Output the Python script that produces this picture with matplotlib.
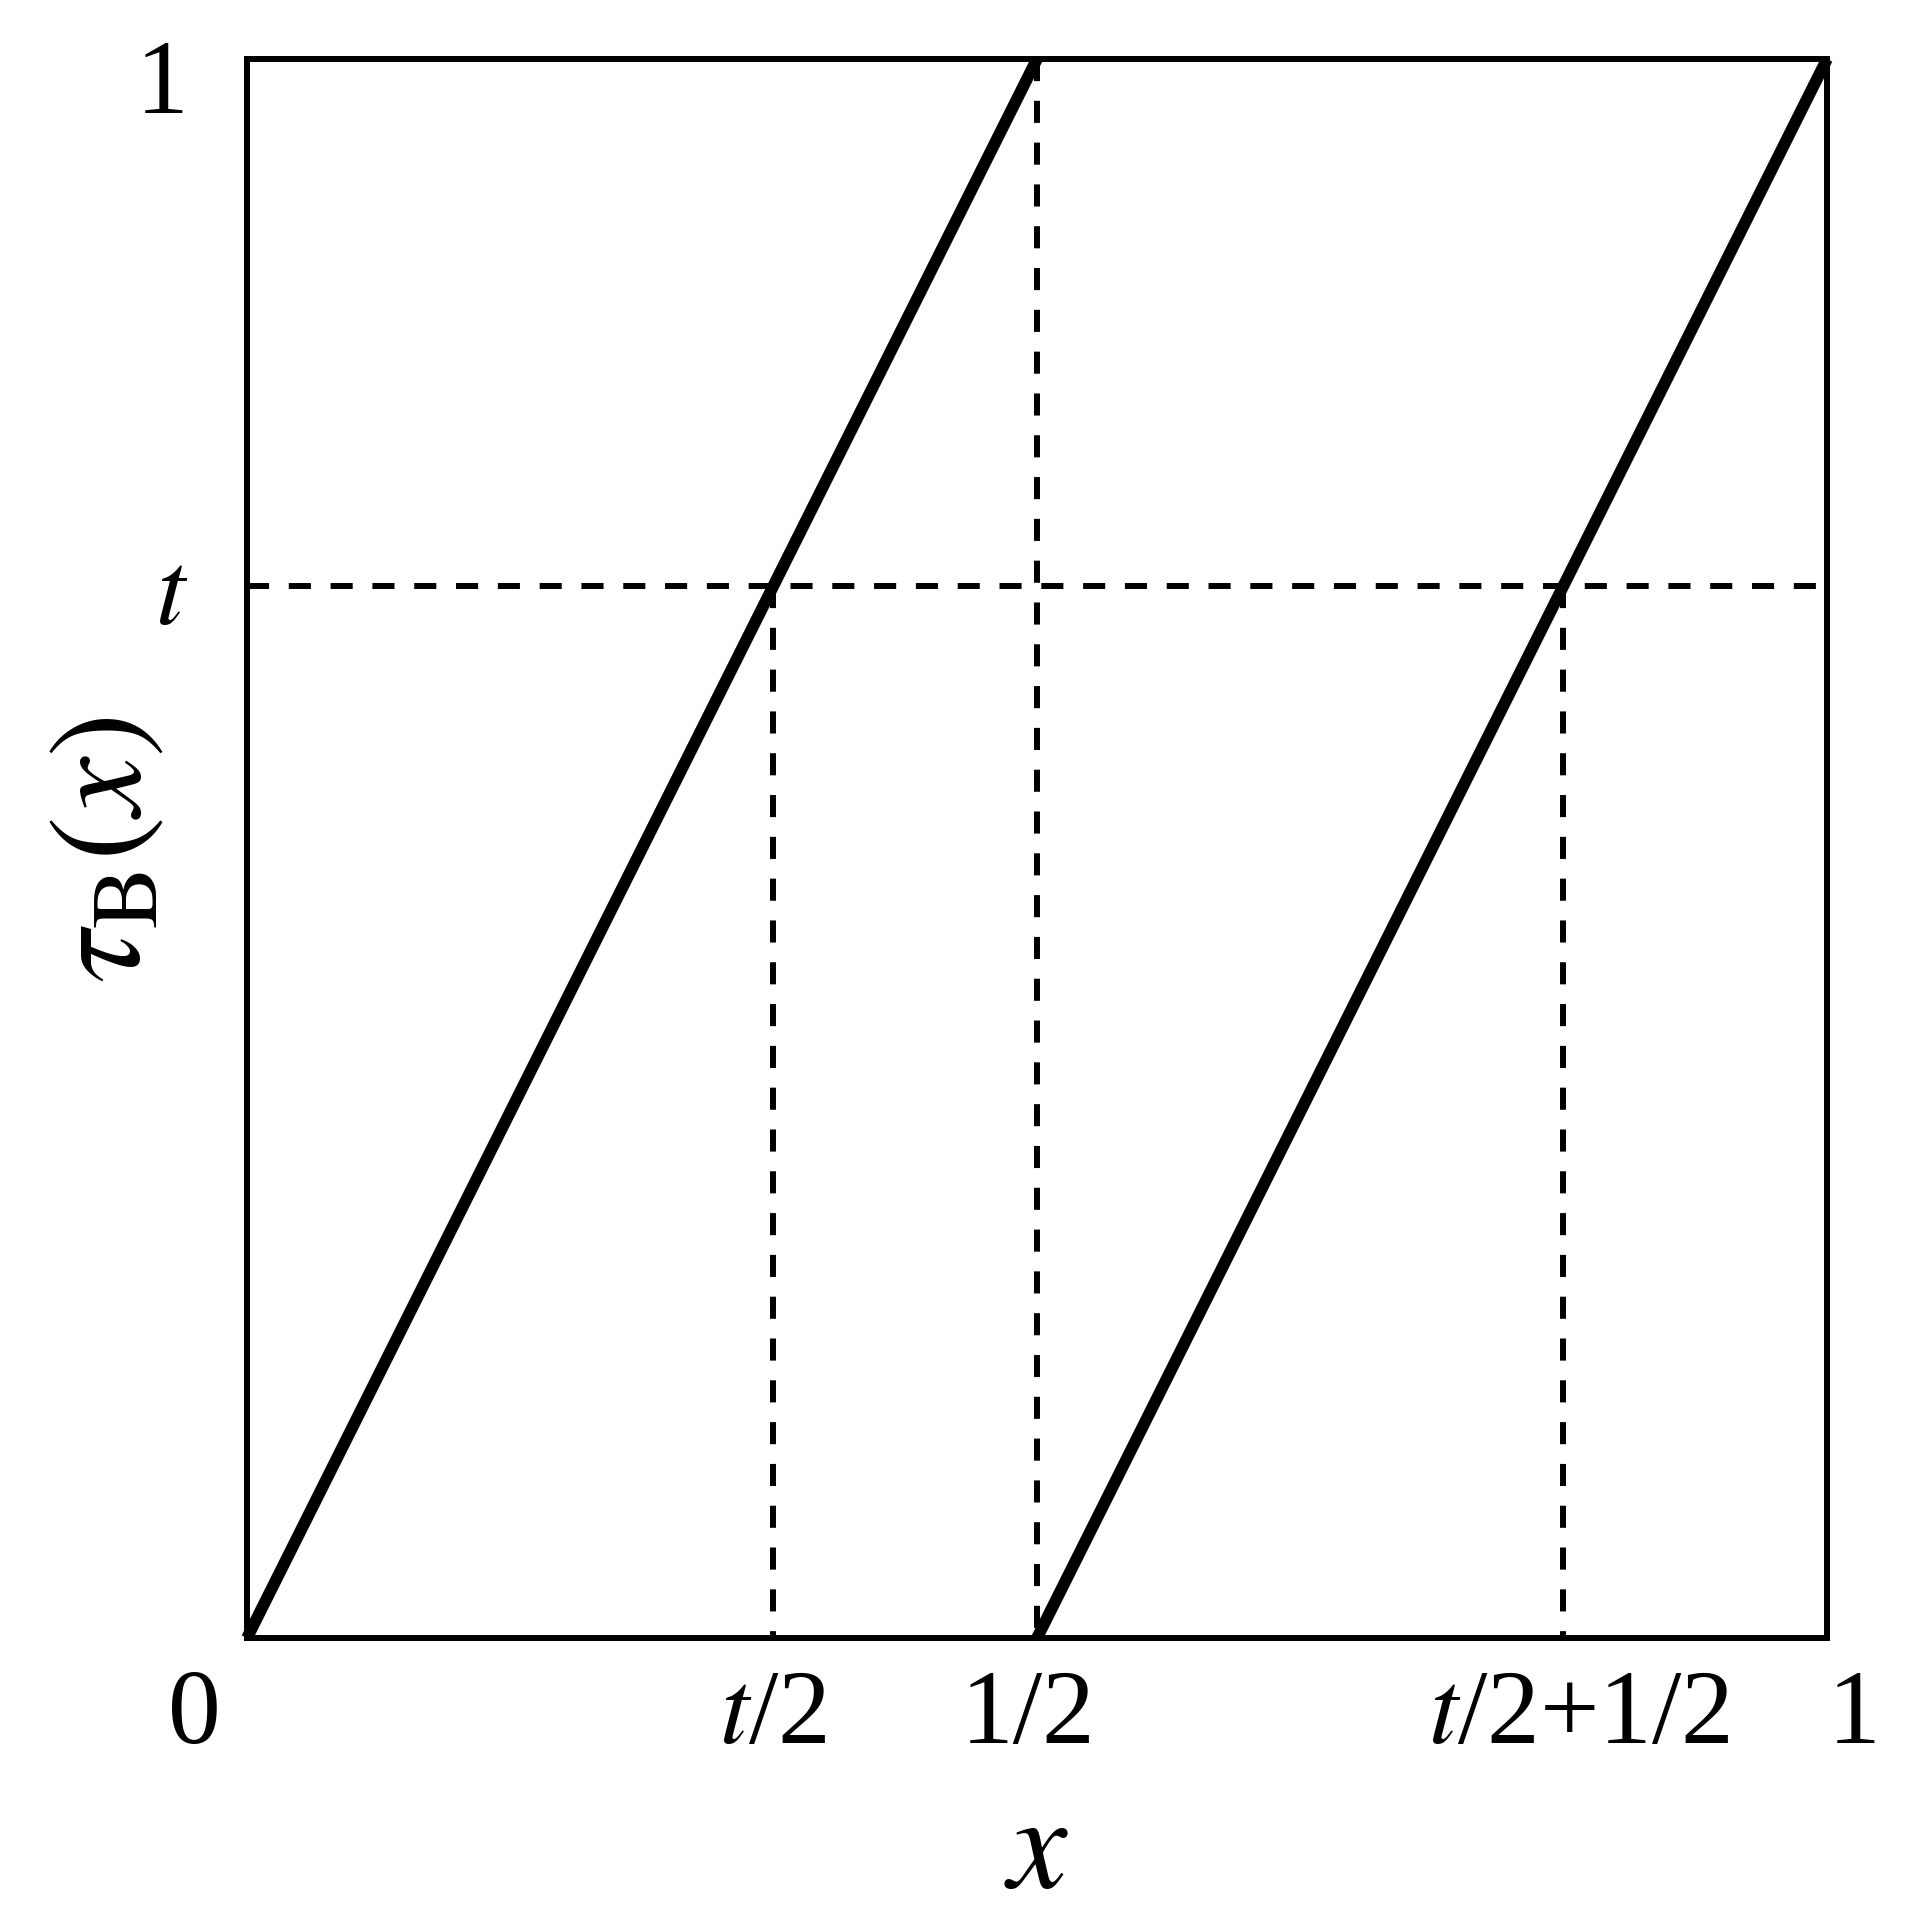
import numpy as np
import matplotlib
matplotlib.use("Agg")
import matplotlib.pyplot as plt
from matplotlib.transforms import ScaledTranslation

plt.rcParams['font.family'] = ['Liberation Serif', 'DejaVu Serif']
plt.rcParams['mathtext.fontset'] = 'stix'

# параметр t и две ветви функции
t_val = 0.666
branch1_x = [0.0, 0.5]
branch1_y = [0.0, 1.0]
branch2_x = [0.5, 1.0]
branch2_y = [0.0, 1.0]

# подписи делений
xtick_pos = [0.0, t_val / 2, 0.5, t_val / 2 + 0.5, 1.0]
xtick_lab = ['0', '$t$/2', '1/2', '$t$/2+1/2', '1']
ytick_pos = [t_val, 1.0]
ytick_lab = ['$t$', '1']

fig = plt.figure(figsize=(19.10, 19.15), dpi=100)
ax = fig.add_axes([247 / 1910, 1 - 1639 / 1915, 1580 / 1910, 1579 / 1915])

ax.set_xlim(0, 1)
ax.set_ylim(0, 1)

dash = (0, (3.7, 3.3))
lw_d = 4.3

# пунктирные линии
ax.plot([0, 1], [t_val, t_val], color='black', lw=lw_d, linestyle=dash)
ax.plot([t_val / 2, t_val / 2], [t_val, 0], color='black', lw=lw_d, linestyle=dash)
ax.plot([0.5, 0.5], [1, 0], color='black', lw=lw_d, linestyle=dash)
ax.plot([t_val / 2 + 0.5, t_val / 2 + 0.5], [t_val, 0], color='black', lw=lw_d, linestyle=dash)

# сплошные ветви
ax.plot(branch1_x, branch1_y, color='black', lw=8.5, solid_capstyle='butt', clip_on=False)
ax.plot(branch2_x, branch2_y, color='black', lw=8.5, solid_capstyle='butt', clip_on=False)

for s in ax.spines.values():
    s.set_linewidth(4.3)

ax.set_xticks(xtick_pos)
ax.set_xticklabels(xtick_lab, fontsize=76)
ax.set_yticks(ytick_pos)
ax.set_yticklabels(ytick_lab, fontsize=76)
ax.tick_params(axis='both', length=0)
ax.tick_params(axis='x', pad=22)
ax.tick_params(axis='y', pad=42)

# смещения крайних подписей
shifts = [-53, 0, -9, 16, 27]
for lab, dx in zip(ax.get_xticklabels(), shifts):
    lab.set_transform(lab.get_transform() + ScaledTranslation(dx / 100, 0, fig.dpi_scale_trans))

yshifts = [0, -16]
for lab, dy in zip(ax.get_yticklabels(), yshifts):
    lab.set_transform(lab.get_transform() + ScaledTranslation(0, dy / 100, fig.dpi_scale_trans))

ax.set_xlabel('$x$', fontsize=96, labelpad=20)
ax.set_ylabel(r'$\tau_{\mathrm{B}}(x)$', fontsize=96)
ax.yaxis.set_label_coords(-0.05, 0.5)

fig.savefig('out.png', dpi=100)
